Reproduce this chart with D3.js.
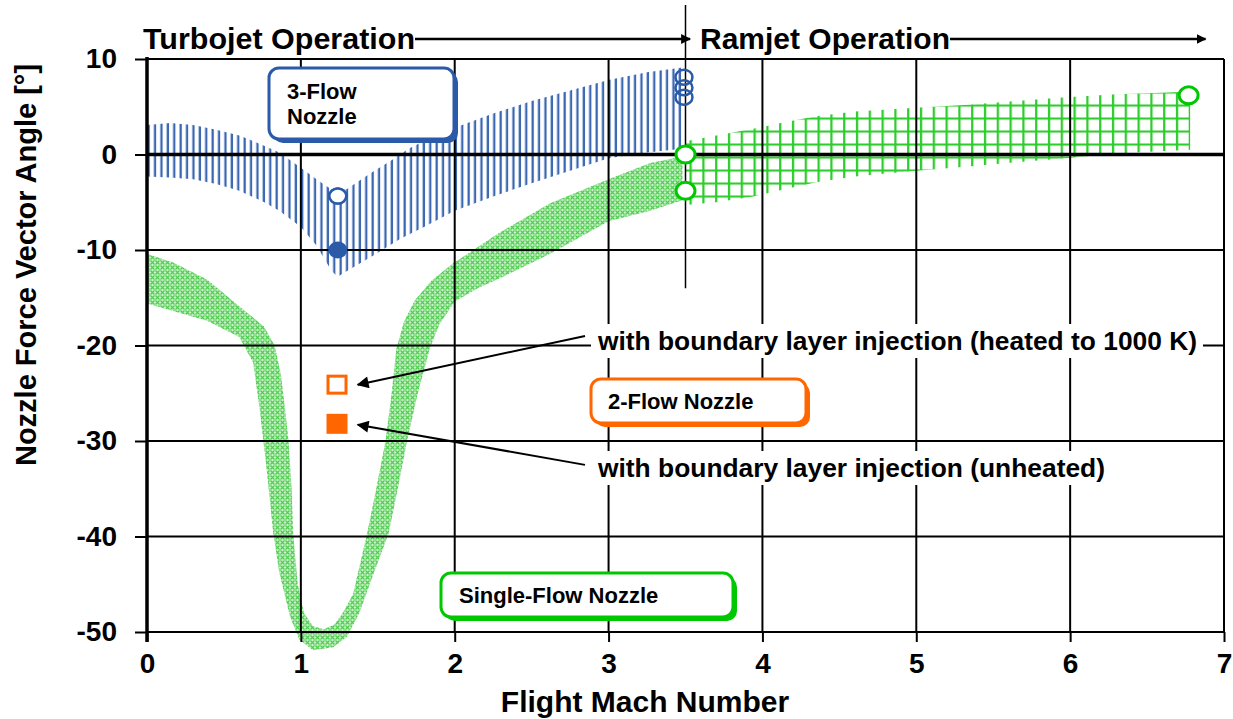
<!DOCTYPE html>
<html><head><meta charset="utf-8">
<script src="https://cdn.jsdelivr.net/npm/d3@7"></script>
<style>
body{margin:0;background:#fff}
svg{display:block}
text{font-family:"Liberation Sans",Arial,Helvetica,sans-serif;font-weight:bold;fill:#000}
</style>
</head><body>
<svg id="c" width="1233" height="719"></svg>
<script>
// ---------- data ----------
const machTicks = [0,1,2,3,4,5,6,7];
const angleTicks = [-50,-40,-30,-20,-10,0,10];

// 3-Flow nozzle band (vertical hatching) [Mach, angle]
const threeFlowUpper = [[0,3.1],[0.15,3.3],[0.3,3.1],[0.45,2.6],[0.6,2.0],[0.75,1.0],[0.86,0.2],[1.0,-1.4],[1.12,-2.8],[1.23,-4.0],[1.3,-3.6],[1.45,-2.0],[1.6,-0.5],[1.7,0.6],[1.85,1.8],[2.0,2.8],[2.25,4.3],[2.5,5.6],[2.75,6.7],[3.0,7.8],[3.25,8.6],[3.48,9.1]];
const threeFlowLower = [[0,-2.3],[0.15,-2.4],[0.3,-2.6],[0.45,-3.1],[0.6,-3.8],[0.75,-4.9],[0.86,-5.9],[1.0,-7.6],[1.1,-9.5],[1.2,-12.2],[1.24,-12.8],[1.3,-12.2],[1.5,-10.3],[1.65,-8.8],[1.8,-7.6],[2.0,-5.9],[2.25,-4.4],[2.5,-3.0],[2.75,-1.7],[3.0,-0.4],[3.25,0.2],[3.48,0.6]];

// Single-flow nozzle band (cross hatch): inner and outer edges, left to right
const singleInner = [[0,-10.4],[0.17,-11.3],[0.39,-13.1],[0.6,-15.9],[0.76,-18.0],[0.83,-20.0],[0.87,-23],[0.9,-27],[0.92,-30],[0.94,-35],[0.95,-39.7],[0.98,-45],[1.02,-48],[1.08,-49.4],[1.15,-49.7],[1.22,-49.2],[1.28,-47.8],[1.34,-46.0],[1.43,-39.7],[1.49,-35],[1.55,-30],[1.59,-25],[1.62,-20.4],[1.67,-17.5],[1.74,-15.3],[1.85,-13.2],[1.99,-11.4],[2.29,-8.2],[2.62,-5.1],[3.0,-2.6],[3.27,-0.9],[3.48,-0.2]];
const singleOuter = [[0,-15.6],[0.17,-16.4],[0.39,-17.4],[0.6,-19.1],[0.69,-21.8],[0.73,-26.4],[0.78,-33.3],[0.82,-39.6],[0.86,-43.8],[0.93,-48.4],[0.99,-50.8],[1.08,-51.9],[1.21,-51.6],[1.3,-50.5],[1.38,-48.0],[1.47,-44],[1.57,-39.7],[1.63,-35],[1.69,-30],[1.76,-25],[1.84,-20.2],[1.9,-17.8],[2.0,-15.4],[2.15,-14.0],[2.3,-12.9],[2.62,-10.4],[3.0,-7.0],[3.27,-5.9],[3.48,-4.8]];

// Ramjet band (grid hatch)
const ramUpper = [[3.5,1.4],[3.7,2.0],[3.94,2.7],[4.15,3.4],[4.35,4.0],[4.6,4.5],[5.0,4.9],[5.34,5.2],[5.65,5.6],[5.97,6.0],[6.3,6.3],[6.64,6.5],[6.78,6.6]];
const ramLower = [[3.5,-5.3],[3.7,-5.0],[3.94,-4.4],[4.15,-3.6],[4.35,-2.9],[4.6,-2.3],[5.0,-1.7],[5.3,-1.3],[5.65,-0.8],[5.97,-0.4],[6.3,0.1],[6.78,0.5]];

// markers
const blueOpen = [[1.24,-4.35],[3.49,8.1],[3.49,7.0],[3.49,6.0]];
const blueFilled = [[1.24,-10.0]];
const greenOpen = [[3.5,0.0],[3.5,-3.8],[6.77,6.2]];
const orangeOpen = [[1.235,-24.1]];
const orangeFilled = [[1.235,-28.2]];

// ---------- setup ----------
const svg = d3.select('#c');
const x = d3.scaleLinear().domain([0,7]).range([147,1224]);
const y = d3.scaleLinear().domain([-50,10]).range([632,59]);
const BLUE = '#2b5ba8', GREEN = '#00c800', ORANGE = '#ff6600';

const defs = svg.append('defs');
const pb = defs.append('pattern').attr('id','blueHatch').attr('patternUnits','userSpaceOnUse')
  .attr('x', x(0)).attr('width',6.4).attr('height',10);
pb.append('rect').attr('x',0.5).attr('y',0).attr('width',2.3).attr('height',10).attr('fill','#3a66b2');
const pc = defs.append('pattern').attr('id','greenCross').attr('patternUnits','userSpaceOnUse')
  .attr('width',5).attr('height',5);
pc.append('rect').attr('width',5).attr('height',5).attr('fill','#c8f0c8');
pc.append('path').attr('d','M0.5,0.5L4.5,4.5M4.5,0.5L0.5,4.5').attr('stroke','#4ccc4c').attr('stroke-width',1.1).attr('fill','none');
const pg = defs.append('pattern').attr('id','greenGrid').attr('patternUnits','userSpaceOnUse')
  .attr('x', x(3.5)+4).attr('y', y(0)-11).attr('width',12.8).attr('height',13);
pg.append('rect').attr('x',0).attr('y',0).attr('width',2.3).attr('height',13).attr('fill','#2ecc2e');
pg.append('rect').attr('x',0).attr('y',0).attr('width',12.8).attr('height',2.1).attr('fill','#2ecc2e');

const mk = defs.append('marker').attr('id','arr').attr('viewBox','0 0 10 10').attr('refX',9).attr('refY',5)
  .attr('markerWidth',7).attr('markerHeight',6).attr('markerUnits','strokeWidth').attr('orient','auto');
mk.append('path').attr('d','M0,0L10,5L0,10Z').attr('fill','#000');
const mk2 = defs.append('marker').attr('id','arr2').attr('viewBox','0 0 10 10').attr('refX',9).attr('refY',5)
  .attr('markerWidth',4).attr('markerHeight',4).attr('markerUnits','strokeWidth').attr('orient','auto');
mk2.append('path').attr('d','M0,0L10,5L0,10Z').attr('fill','#000');

const line = d3.line().x(d=>x(d[0])).y(d=>y(d[1]));
function band(up, lo){ return line(up.concat(lo.slice().reverse())) + 'Z'; }

// ---------- bands ----------
svg.append('path').attr('d', band(singleInner, singleOuter)).attr('fill','url(#greenCross)');
svg.append('path').attr('d', band(threeFlowUpper, threeFlowLower)).attr('fill','url(#blueHatch)');
svg.append('path').attr('d', band(ramUpper, ramLower)).attr('fill','url(#greenGrid)');

// ---------- grid ----------
const g = svg.append('g');
g.selectAll('.vg').data(machTicks.slice(1)).join('line')
  .attr('x1',d=>x(d)).attr('x2',d=>x(d)).attr('y1',y(10)).attr('y2',y(-50))
  .attr('stroke','#000').attr('stroke-width',2);
g.selectAll('.hg').data(angleTicks.filter(d=>d!==0)).join('line')
  .attr('x1',x(0)).attr('x2',x(7)).attr('y1',d=>y(d)).attr('y2',d=>y(d))
  .attr('stroke','#000').attr('stroke-width',2);
g.append('line').attr('x1',x(0)).attr('x2',x(7)).attr('y1',y(0)).attr('y2',y(0))
  .attr('stroke','#000').attr('stroke-width',3.5);

// axes
const fmt = d => String(d);
const yAxis = d3.axisLeft(y).tickValues(angleTicks).tickSize(12).tickPadding(18).tickFormat(fmt);
const ya = svg.append('g').attr('transform',`translate(${x(0)},0)`).call(yAxis);
ya.select('.domain').remove();
ya.selectAll('line').attr('stroke','#000').attr('stroke-width',2);
ya.selectAll('text').style('font-size','28px').attr('fill','#000');
const xAxis = d3.axisBottom(x).tickValues(machTicks).tickSize(10).tickPadding(11).tickFormat(fmt);
const xa = svg.append('g').attr('transform',`translate(0,${y(-50)})`).call(xAxis);
xa.select('.domain').remove();
xa.selectAll('line').attr('stroke','#000').attr('stroke-width',2);
xa.selectAll('text').style('font-size','28px').attr('fill','#000');
svg.append('line').attr('x1',x(0)).attr('x2',x(0)).attr('y1',y(10)-2).attr('y2',y(-50)+10)
  .attr('stroke','#000').attr('stroke-width',3.5);

// operation separator
svg.append('line').attr('x1',x(3.5)).attr('x2',x(3.5)).attr('y1',5).attr('y2',y(-14))
  .attr('stroke','#000').attr('stroke-width',1.5);

// ---------- header ----------
svg.append('text').attr('x',143).attr('y',49).style('font-size','30px').text('Turbojet Operation')
  .attr('textLength',272).attr('lengthAdjust','spacingAndGlyphs');
svg.append('line').attr('x1',415).attr('x2',x(3.53)).attr('y1',39).attr('y2',39)
  .attr('stroke','#000').attr('stroke-width',2.5).attr('marker-end','url(#arr2)');
svg.append('text').attr('x',700).attr('y',49).style('font-size','30px').text('Ramjet Operation')
  .attr('textLength',250).attr('lengthAdjust','spacingAndGlyphs');
svg.append('line').attr('x1',950).attr('x2',x(6.88)).attr('y1',39).attr('y2',39)
  .attr('stroke','#000').attr('stroke-width',2.5).attr('marker-end','url(#arr2)');

// axis titles
svg.append('text').attr('x',645).attr('y',712).attr('text-anchor','middle').style('font-size','30px')
  .text('Flight Mach Number');
svg.append('text').attr('transform','translate(36,265) rotate(-90)').attr('text-anchor','middle')
  .style('font-size','29px').text('Nozzle Force Vector Angle [°]');

// ---------- annotation boxes ----------
function box(x0,y0,w,h,color){
  svg.append('rect').attr('x',x0+4).attr('y',y0+4).attr('width',w).attr('height',h).attr('rx',10)
    .attr('fill',color);
  svg.append('rect').attr('x',x0).attr('y',y0).attr('width',w).attr('height',h).attr('rx',10)
    .attr('fill','#fff').attr('stroke',color).attr('stroke-width',3);
}
box(269,68,185,71,BLUE);
svg.append('text').attr('x',287).attr('y',99).style('font-size','22px').text('3-Flow');
svg.append('text').attr('x',287).attr('y',124).style('font-size','22px').text('Nozzle');
box(591,379,215,44,ORANGE);
svg.append('text').attr('x',608).attr('y',409).style('font-size','22px').text('2-Flow Nozzle');
box(441,573,292,44,GREEN);
svg.append('text').attr('x',459).attr('y',603).style('font-size','22px').text('Single-Flow Nozzle');

// annotation texts with white backing
function note(tx,ty,str,len){
  const t = svg.append('text').attr('x',tx).attr('y',ty).style('font-size','26px').text(str)
    .attr('textLength',len).attr('lengthAdjust','spacingAndGlyphs');
  const bb = t.node().getBBox();
  svg.insert('rect', () => t.node()).attr('x',bb.x-6).attr('y',bb.y-2).attr('width',bb.width+12).attr('height',bb.height+4).attr('fill','#fff');
}
note(598,350,'with boundary layer injection (heated to 1000 K)',599);
note(598,477,'with boundary layer injection (unheated)',507);

// arrows (data coordinates)
const arrows = [[[2.847,-19.0],[1.37,-24.1]],[[2.847,-32.5],[1.37,-28.3]]];
svg.selectAll('.arrow').data(arrows).join('line')
  .attr('x1',d=>x(d[0][0])).attr('y1',d=>y(d[0][1])).attr('x2',d=>x(d[1][0])).attr('y2',d=>y(d[1][1]))
  .attr('stroke','#000').attr('stroke-width',2).attr('marker-end','url(#arr)');

// ---------- markers ----------
svg.selectAll('.bo').data(blueOpen).join('ellipse')
  .attr('cx',d=>x(d[0])).attr('cy',d=>y(d[1])).attr('rx',8.5).attr('ry',7.5)
  .attr('fill','none').attr('stroke',BLUE).attr('stroke-width',2.5);
svg.selectAll('.bo0').data(blueOpen.slice(0,1)).join('ellipse')
  .attr('cx',d=>x(d[0])).attr('cy',d=>y(d[1])).attr('rx',8.5).attr('ry',7.5)
  .attr('fill','#fff').attr('stroke',BLUE).attr('stroke-width',2.5);
svg.selectAll('.bf').data(blueFilled).join('ellipse')
  .attr('cx',d=>x(d[0])).attr('cy',d=>y(d[1])).attr('rx',9.5).attr('ry',8.5).attr('fill',BLUE);
svg.selectAll('.go').data(greenOpen).join('ellipse')
  .attr('cx',d=>x(d[0])).attr('cy',d=>y(d[1])).attr('rx',9.5).attr('ry',8.5)
  .attr('fill','#fff').attr('stroke',GREEN).attr('stroke-width',3);
svg.selectAll('.oo').data(orangeOpen).join('rect')
  .attr('x',d=>x(d[0])-9).attr('y',d=>y(d[1])-8.5).attr('width',18).attr('height',17)
  .attr('fill','#fff').attr('stroke',ORANGE).attr('stroke-width',3);
svg.selectAll('.of').data(orangeFilled).join('rect')
  .attr('x',d=>x(d[0])-10.5).attr('y',d=>y(d[1])-10).attr('width',21).attr('height',20)
  .attr('fill',ORANGE);
</script>
</body></html>
